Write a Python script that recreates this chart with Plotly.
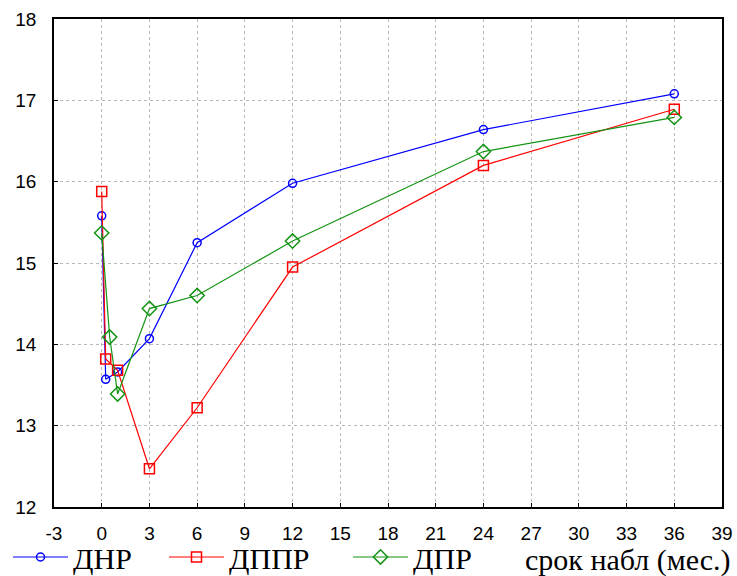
import plotly.graph_objects as go

# Data
dnr_x = [0, 0.25, 1, 3, 6, 12, 24, 36]
dnr_y = [15.58, 13.57, 13.66, 14.07, 15.25, 15.98, 16.64, 17.08]

dppr_x = [0, 0.25, 1, 3, 6, 12, 24, 36]
dppr_y = [15.88, 13.82, 13.68, 12.47, 13.22, 14.95, 16.20, 16.89]

dpr_x = [0, 0.5, 1, 3, 6, 12, 24, 36]
dpr_y = [15.37, 14.09, 13.39, 14.44, 14.60, 15.27, 16.37, 16.79]

x_ticks = list(range(-3, 40, 3))
x_tick_text = [str(v) for v in x_ticks]
y_ticks = [12, 13, 14, 15, 16, 17, 18]

series = [
    ("ДНР", dnr_x, dnr_y, "#0000ff", "circle-open", 8, "legend", 8),
    ("ДППР", dppr_x, dppr_y, "#ff0000", "square-open", 10, "legend2", 164),
    ("ДПР", dpr_x, dpr_y, "#139313", "diamond-open", 11, "legend3", 348),
]

fig = go.Figure()
legends = {}
for name, xs, ys, col, sym, sz, lg, lx in series:
    fig.add_trace(go.Scatter(
        x=xs, y=ys, name=name, mode="lines+markers", legend=lg,
        line=dict(color=col, width=1.2),
        marker=dict(symbol=sym, size=sz, color=col, line=dict(color=col, width=1.5)),
    ))
    legends[lg] = dict(
        orientation="h", xref="container", yref="container",
        x=lx / 737, xanchor="left", y=0.033, yanchor="middle",
        font=dict(family="Liberation Serif", size=30, color="black"),
        bgcolor="rgba(0,0,0,0)", itemwidth=55,
    )

axis_common = dict(
    showline=True, linecolor="black", linewidth=1.5, mirror=True,
    showgrid=True, gridcolor="#b8b8b8", griddash="dot", gridwidth=1,
    zeroline=False, ticks="inside", ticklen=4, tickcolor="black",
    tickfont=dict(family="Liberation Sans", size=19, color="black"),
    automargin=False,
)

fig.update_xaxes(range=[-3, 39], tickvals=x_ticks, ticktext=x_tick_text,
                 ticklabelstandoff=8, **axis_common)
fig.update_yaxes(range=[12, 18], tickvals=y_ticks, ticklabelstandoff=12, **axis_common)

fig.add_annotation(
    text="срок набл (мес.)", xref="paper", yref="paper",
    x=1.0165, y=-0.108, xanchor="right", yanchor="middle", showarrow=False,
    font=dict(family="Liberation Serif", size=30, color="black"),
)

fig.update_layout(
    width=737, height=576,
    margin=dict(l=54, r=15, t=19, b=69),
    paper_bgcolor="white", plot_bgcolor="white",
    showlegend=True,
    **legends,
)

fig.write_html("out.html", config={"displayModeBar": False},
               post_script="document.body.style.margin='0';")
